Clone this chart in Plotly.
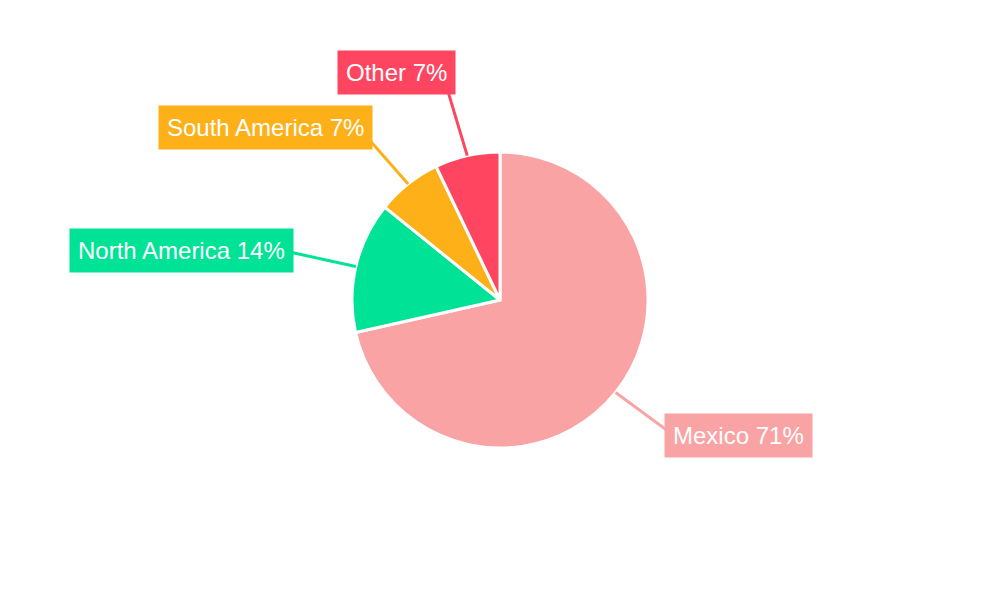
import math
import plotly.graph_objects as go

# ---- data ----
regions = ["Mexico", "North America", "South America", "Other"]
shares = [71.4, 14.3, 7.1, 7.1]
colors = ["#F9A3A4", "#00E396", "#FEB019", "#FF4560"]

# ---- style / layout ----
W, H = 1000, 600
CX, CY, R = 500, 300, 148           # pie centre and radius in pixels
LINE_LEN = 60                        # leader line length beyond the rim
label_nudge = [(2, 6), (-3, -2), (2, -9), (2, -25)]  # per-label pixel nudges
FONT = "Liberation Sans, Arial, sans-serif"

fig = go.Figure(go.Pie(
    labels=regions,
    values=shares,
    sort=False,
    direction="clockwise",
    rotation=0,
    marker=dict(colors=colors, line=dict(color="white", width=3)),
    textinfo="none",
    hoverinfo="label+percent",
    showlegend=False,
    domain=dict(x=[0, 1], y=[(CY - R) / H, (CY + R) / H]),
))

total = sum(shares)
cum = 0.0
shapes, annotations = [], []
for name, v, col, (ndx, ndy) in zip(regions, shares, colors, label_nudge):
    mid = (cum + v / 2) / total * 2 * math.pi
    cum += v
    ux, uy = math.sin(mid), -math.cos(mid)
    sx, sy = CX + R * ux, CY + R * uy
    ex, ey = CX + (R + LINE_LEN) * ux, CY + (R + LINE_LEN) * uy
    pct = round(v / total * 100)
    right_side = ux >= 0
    shapes.append(dict(
        type="line", xref="paper", yref="paper",
        x0=sx / W, y0=1 - sy / H, x1=(ex + (8 if right_side else -8)) / W, y1=1 - (ey + ndy * 0.5) / H,
        line=dict(color=col, width=3), layer="above",
    ))
    annotations.append(dict(
        xref="paper", yref="paper",
        x=(ex + ndx) / W, y=1 - (ey + ndy) / H,
        xanchor="left" if right_side else "right", yanchor="middle",
        text=f"{name} {pct}%",
        showarrow=False,
        bgcolor=col, borderpad=8,
        font=dict(family=FONT, size=24, color="white"),
    ))

fig.update_layout(
    width=W, height=H,
    margin=dict(l=0, r=0, t=0, b=0),
    paper_bgcolor="white", plot_bgcolor="white",
    shapes=shapes, annotations=annotations,
)

fig.write_html("out.html", config={"displayModeBar": False},
               post_script="document.body.style.margin='0';")
